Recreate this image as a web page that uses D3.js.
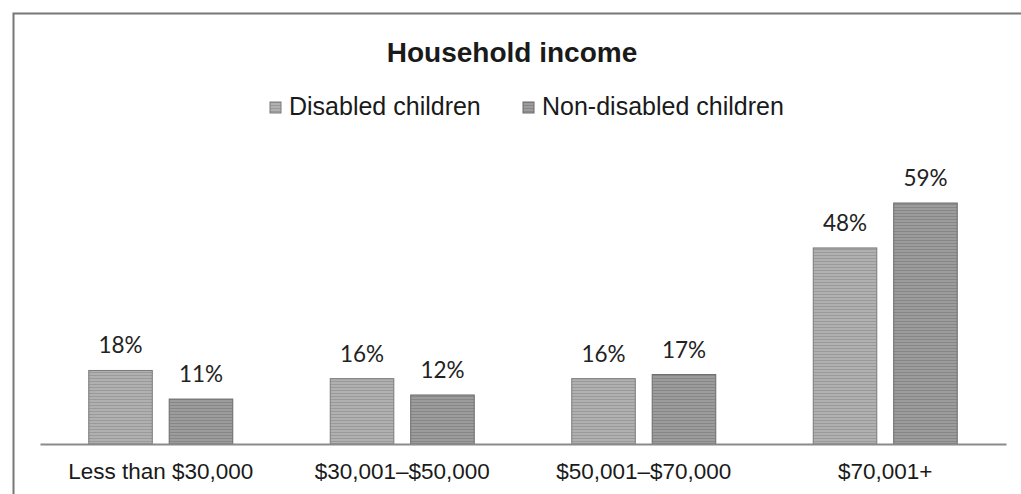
<!DOCTYPE html>
<html>
<head>
<meta charset="utf-8">
<script src="https://cdn.jsdelivr.net/npm/d3@7"></script>
<style>
  body { margin: 0; background: #fff; }
</style>
</head>
<body>
<div id="chart"></div>
<script>
const categories = ["Less than $30,000", "$30,001\u2013$50,000", "$50,001\u2013$70,000", "$70,001+"];
const seriesNames = ["Disabled children", "Non-disabled children"];
const disabled = [18, 16, 16, 48];
const nonDisabled = [11, 12, 17, 59];

const width = 1021;
const height = 494;

const svg = d3.select("#chart")
  .append("svg")
  .attr("width", width)
  .attr("height", height);

// striped fills, like the scanned print
const defs = svg.append("defs");
const fills = [
  { id: "pat0", base: "#b0b0b0", line: "#9a9a9a" },
  { id: "pat1", base: "#9c9c9c", line: "#878787" }
];
fills.forEach(f => {
  const p = defs.append("pattern")
    .attr("id", f.id)
    .attr("patternUnits", "userSpaceOnUse")
    .attr("width", 4).attr("height", 3);
  p.append("rect").attr("width", 4).attr("height", 3).attr("fill", f.base);
  p.append("rect").attr("width", 4).attr("height", 1).attr("fill", f.line);
});
const outline = ["#7a7a7a", "#6a6a6a"];

// frame
svg.append("path")
  .attr("d", `M13.5,${height} V13.5 H${width}`)
  .attr("fill", "none")
  .attr("stroke", "#777")
  .attr("stroke-width", 2);

const groupW = 144;
const x0 = d3.scaleBand().domain(categories).range([40, 1006]);
const x1 = d3.scaleBand().domain(seriesNames).range([0, groupW]).paddingInner(0.21);
const y = d3.scaleLinear().domain([0, 59]).range([444, 203]);

const groups = svg.append("g")
  .selectAll("g")
  .data(categories)
  .join("g")
  .attr("transform", d => `translate(${x0(d) + (x0.bandwidth() - groupW) / 2},0)`);

const values = [disabled, nonDisabled];

groups.selectAll("rect")
  .data((d, i) => seriesNames.map((s, j) => ({ s, j, v: values[j][i] })))
  .join("rect")
  .attr("x", d => x1(d.s))
  .attr("width", x1.bandwidth())
  .attr("y", d => y(d.v))
  .attr("height", d => y(0) - y(d.v))
  .attr("fill", d => `url(#pat${d.j})`)
  .attr("stroke", d => outline[d.j])
  .attr("stroke-width", 1);

groups.selectAll("text")
  .data((d, i) => seriesNames.map((s, j) => ({ s, j, v: values[j][i] })))
  .join("text")
  .attr("x", d => x1(d.s) + x1.bandwidth() / 2)
  .attr("y", d => y(d.v) - 17)
  .attr("text-anchor", "middle")
  .attr("font-family", "Lato, 'Open Sans', sans-serif")
  .attr("font-size", 22.5)
  .attr("fill", "#222")
  .text(d => d.v + "%");

// baseline axis
const axis = svg.append("g")
  .attr("transform", "translate(0,444)")
  .call(d3.axisBottom(x0).tickSize(0).tickPadding(19));
axis.select(".domain").attr("stroke", "#8a8a8a").attr("stroke-width", 2);
axis.selectAll("text")
  .attr("font-family", "'Liberation Sans', Arial, sans-serif")
  .attr("font-size", 22.5)
  .attr("fill", "#1a1a1a");

// title
svg.append("text")
  .attr("x", 512)
  .attr("y", 62)
  .attr("text-anchor", "middle")
  .attr("font-family", "'Liberation Sans', Arial, sans-serif")
  .attr("font-weight", "bold")
  .attr("font-size", 28)
  .attr("fill", "#1a1a1a")
  .text("Household income");

// legend
const legendX = [270, 523];
const legend = svg.append("g")
  .selectAll("g")
  .data(seriesNames)
  .join("g")
  .attr("transform", (d, i) => `translate(${legendX[i]},102)`);
legend.append("rect")
  .attr("width", 11).attr("height", 11)
  .attr("fill", (d, i) => `url(#pat${i})`)
  .attr("stroke", (d, i) => outline[i]);
legend.append("text")
  .attr("x", 19)
  .attr("y", 13)
  .attr("font-family", "'Liberation Sans', Arial, sans-serif")
  .attr("font-size", 25)
  .attr("fill", "#1a1a1a")
  .text(d => d);
</script>
</body>
</html>
